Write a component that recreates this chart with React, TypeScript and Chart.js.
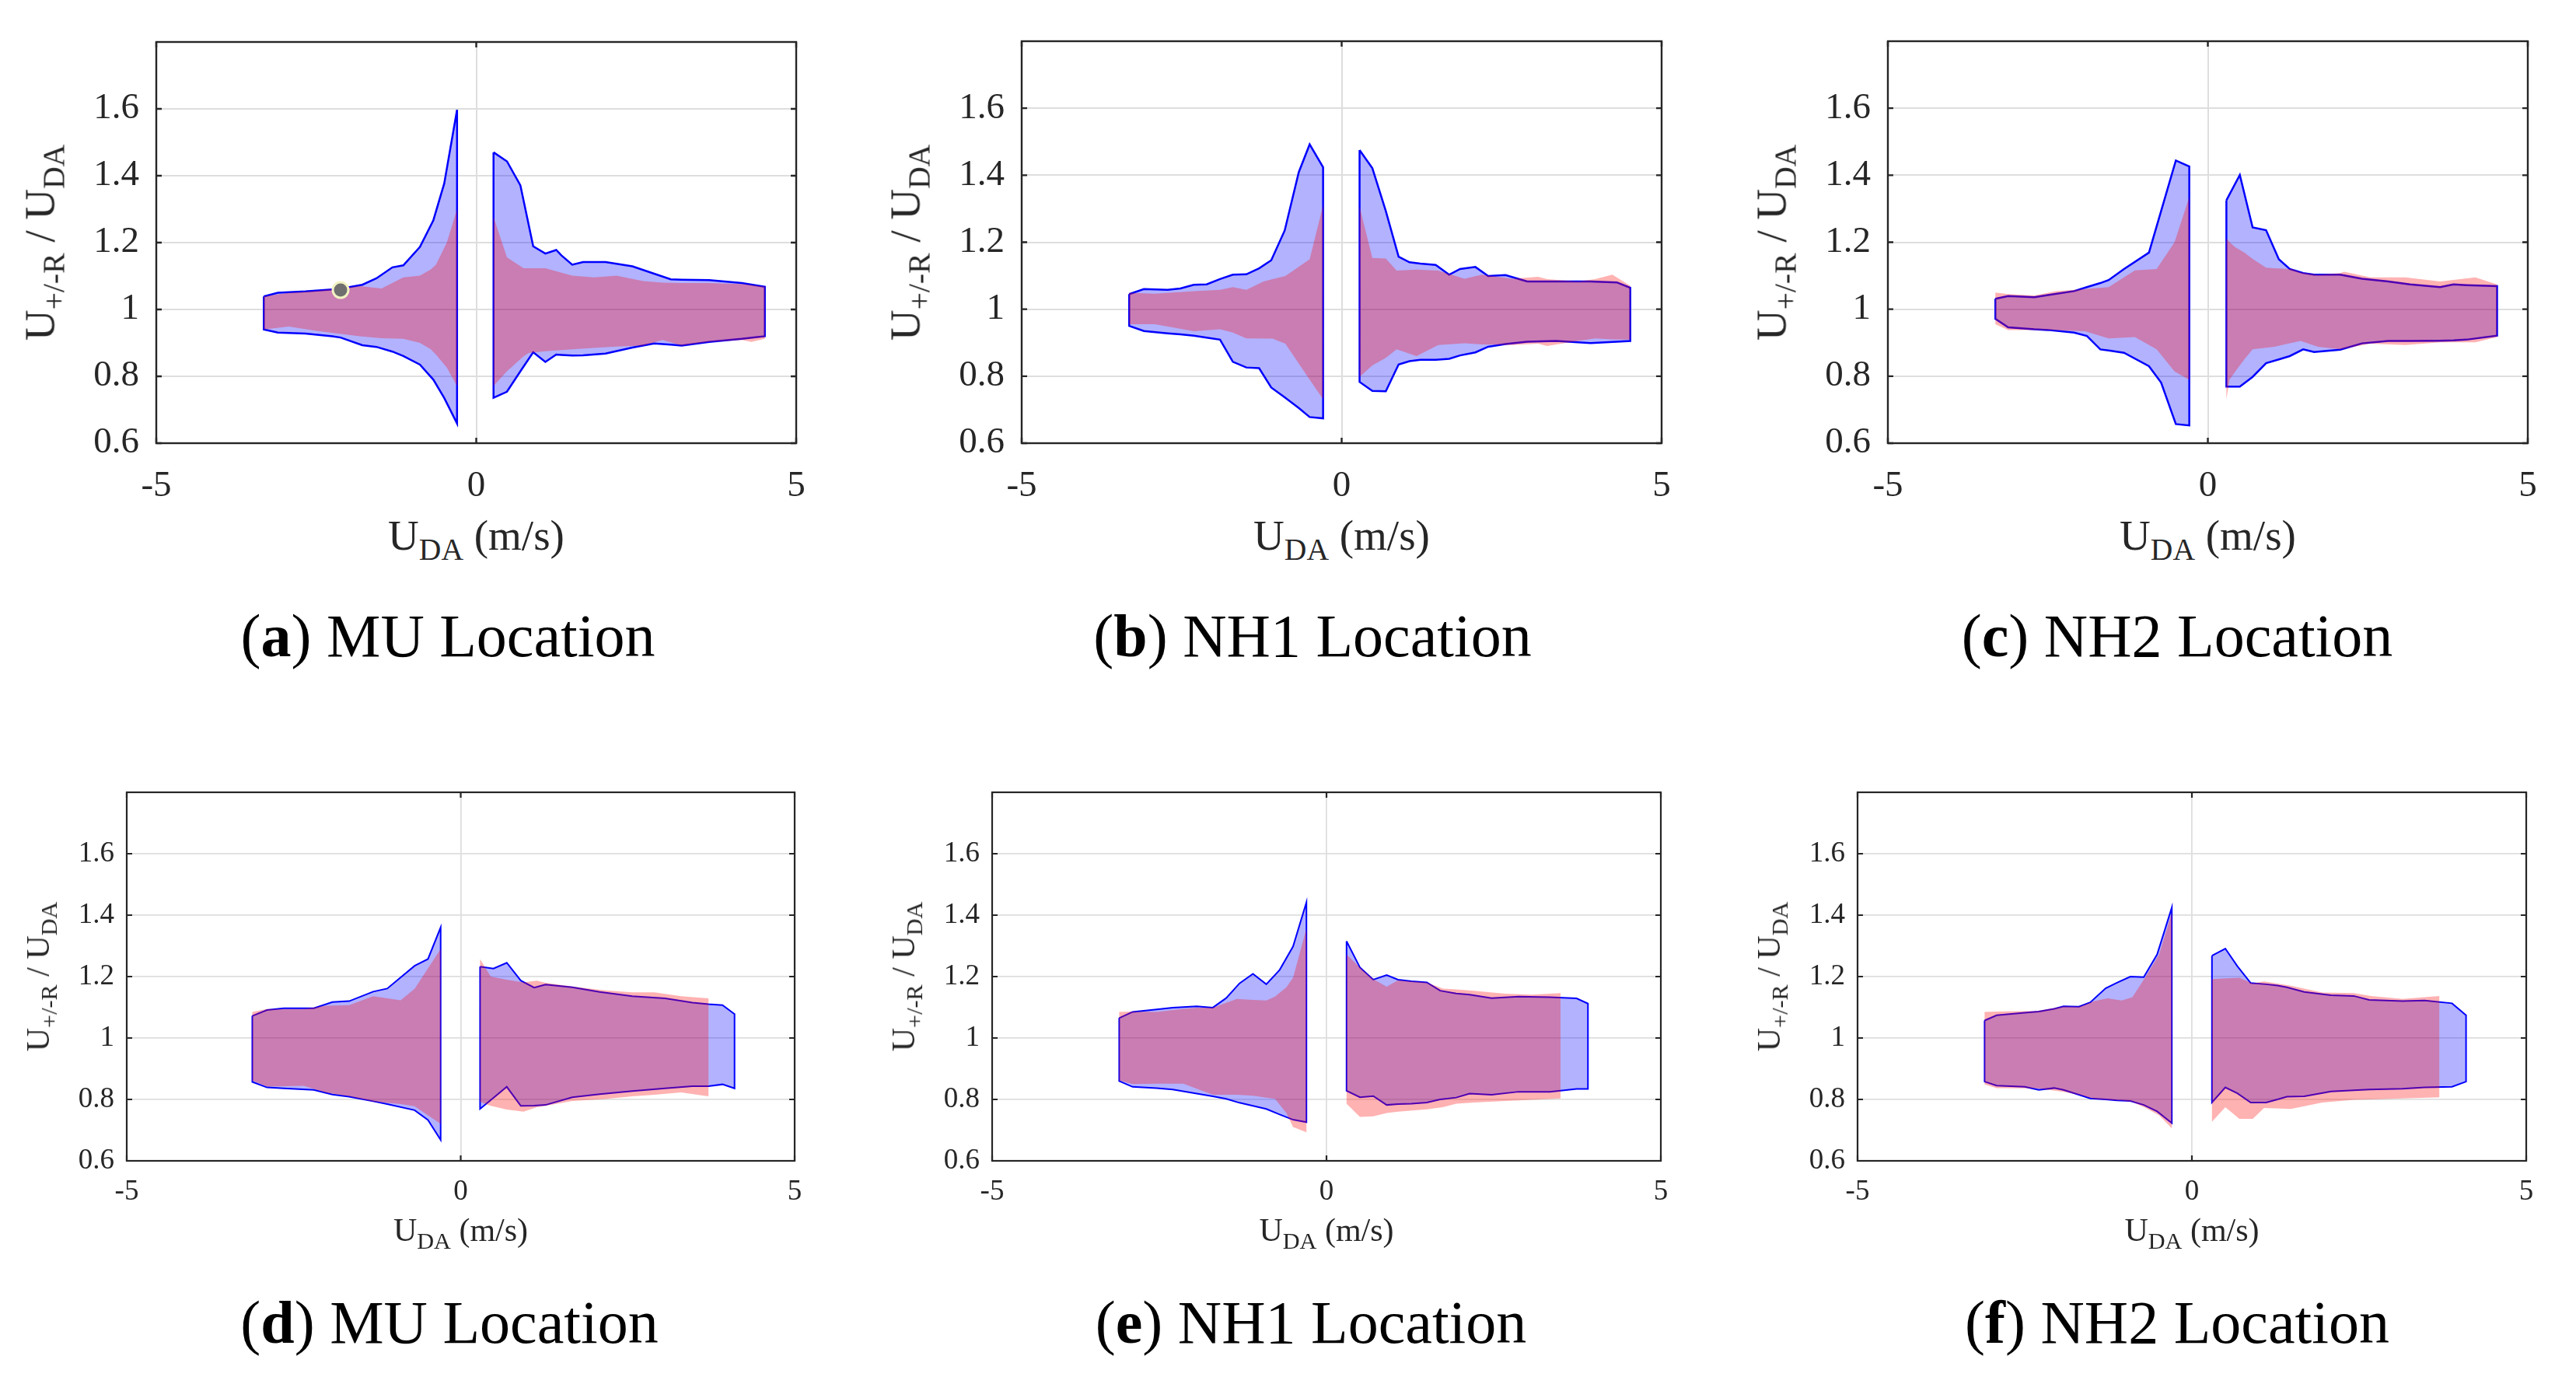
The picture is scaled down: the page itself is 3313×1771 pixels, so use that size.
import React, { useEffect, useRef } from "react";
import { Chart, registerables } from "chart.js";

Chart.register(...registerables);

// each band row: [U_DA, lower, upper]
type Band = [number, number, number][];

const X_TICKS = [-5, 0, 5];
const Y_TICKS = [0.6, 0.8, 1, 1.2, 1.4, 1.6];

// (a) MU, top row
const A_BLUE_NEG: Band = [
  [-3.32, 0.94, 1.039], [-3.1, 0.931, 1.05], [-2.67, 0.928, 1.054], [-2.25, 0.92, 1.06],
  [-2.12, 0.916, 1.062], [-1.78, 0.893, 1.074], [-1.56, 0.888, 1.093], [-1.31, 0.874, 1.126],
  [-1.14, 0.861, 1.132], [-0.88, 0.835, 1.187], [-0.67, 0.79, 1.267], [-0.5, 0.735, 1.377],
  [-0.3, 0.659, 1.597],
];
const A_RED_NEG: Band = [
  [-3.32, 0.94, 1.039], [-2.93, 0.949, 1.05], [-2.5, 0.936, 1.056], [-1.82, 0.92, 1.07],
  [-1.48, 0.914, 1.063], [-1.14, 0.912, 1.096], [-0.88, 0.9, 1.101], [-0.71, 0.881, 1.12],
  [-0.63, 0.865, 1.134], [-0.46, 0.826, 1.2], [-0.3, 0.771, 1.3],
];
const A_BLUE_POS: Band = [
  [0.27, 0.736, 1.47], [0.48, 0.754, 1.443], [0.69, 0.815, 1.371], [0.89, 0.872, 1.189],
  [1.08, 0.843, 1.167], [1.25, 0.865, 1.178], [1.33, 0.864, 1.162], [1.5, 0.862, 1.134],
  [1.67, 0.863, 1.142], [2.02, 0.868, 1.142], [2.44, 0.886, 1.129], [2.78, 0.898, 1.107],
  [3.04, 0.895, 1.09], [3.21, 0.892, 1.089], [3.64, 0.903, 1.088], [4.15, 0.912, 1.079],
  [4.51, 0.92, 1.068],
];
const A_RED_POS: Band = [
  [0.27, 0.771, 1.277], [0.48, 0.815, 1.156], [0.74, 0.86, 1.123], [0.82, 0.87, 1.123],
  [1.08, 0.875, 1.123], [1.5, 0.881, 1.101], [1.84, 0.885, 1.096], [2.19, 0.889, 1.101],
  [2.61, 0.892, 1.085], [2.91, 0.909, 1.08], [3.21, 0.892, 1.079], [3.64, 0.903, 1.079],
  [4.15, 0.909, 1.076], [4.3, 0.903, 1.074], [4.51, 0.912, 1.068],
];
const A_MARKER = [{ x: -2.12, y: 1.058 }];

// (b) NH1, top row
const B_BLUE_NEG: Band = [
  [-3.32, 0.95, 1.045], [-3.09, 0.935, 1.06], [-2.72, 0.928, 1.058], [-2.52, 0.925, 1.062],
  [-2.31, 0.921, 1.073], [-2.11, 0.915, 1.074], [-1.9, 0.909, 1.09], [-1.7, 0.843, 1.103],
  [-1.49, 0.826, 1.104], [-1.29, 0.824, 1.122], [-1.1, 0.766, 1.146], [-0.89, 0.737, 1.235],
  [-0.67, 0.705, 1.409], [-0.5, 0.678, 1.492], [-0.29, 0.674, 1.424],
];
const B_RED_NEG: Band = [
  [-3.32, 0.955, 1.049], [-2.92, 0.955, 1.046], [-2.31, 0.934, 1.054], [-1.9, 0.94, 1.058],
  [-1.7, 0.93, 1.066], [-1.49, 0.913, 1.058], [-1.22, 0.912, 1.083], [-1.08, 0.912, 1.09],
  [-0.88, 0.897, 1.099], [-0.5, 0.79, 1.149], [-0.29, 0.731, 1.31],
];
const B_BLUE_POS: Band = [
  [0.28, 0.783, 1.475], [0.48, 0.756, 1.421], [0.69, 0.755, 1.293], [0.89, 0.835, 1.157],
  [1.06, 0.845, 1.14], [1.23, 0.849, 1.136], [1.47, 0.849, 1.132], [1.68, 0.852, 1.103],
  [1.85, 0.862, 1.12], [2.09, 0.871, 1.126], [2.29, 0.888, 1.099], [2.56, 0.896, 1.102],
  [2.9, 0.903, 1.083], [3.35, 0.905, 1.083], [3.89, 0.899, 1.083], [4.3, 0.903, 1.08],
  [4.51, 0.905, 1.064],
];
const B_RED_POS: Band = [
  [0.28, 0.798, 1.306], [0.48, 0.832, 1.153], [0.69, 0.855, 1.151], [0.86, 0.88, 1.115],
  [1.17, 0.86, 1.118], [1.51, 0.893, 1.115], [1.92, 0.898, 1.091], [2.19, 0.895, 1.103],
  [2.67, 0.893, 1.091], [3.07, 0.897, 1.097], [3.21, 0.89, 1.09], [3.69, 0.905, 1.083],
  [3.96, 0.913, 1.09], [4.23, 0.91, 1.103], [4.51, 0.909, 1.07],
];

// (c) NH2, top row
const C_BLUE_NEG: Band = [
  [-3.32, 0.971, 1.031], [-3.12, 0.946, 1.039], [-2.71, 0.94, 1.036], [-2.5, 0.938, 1.042],
  [-2.09, 0.93, 1.054], [-1.89, 0.92, 1.066], [-1.68, 0.88, 1.078], [-1.55, 0.877, 1.087],
  [-1.31, 0.87, 1.12], [-0.92, 0.83, 1.169], [-0.73, 0.781, 1.293], [-0.5, 0.657, 1.444],
  [-0.29, 0.653, 1.426],
];
const C_RED_NEG: Band = [
  [-3.32, 0.955, 1.05], [-3.12, 0.938, 1.045], [-2.71, 0.938, 1.041], [-2.37, 0.937, 1.054],
  [-1.92, 0.934, 1.06], [-1.55, 0.913, 1.066], [-1.14, 0.917, 1.116], [-0.8, 0.88, 1.12],
  [-0.52, 0.814, 1.2], [-0.29, 0.789, 1.335],
];
const C_BLUE_POS: Band = [
  [0.29, 0.769, 1.325], [0.5, 0.769, 1.401], [0.7, 0.798, 1.244], [0.91, 0.839, 1.236],
  [1.11, 0.85, 1.149], [1.28, 0.86, 1.12], [1.49, 0.88, 1.108], [1.66, 0.872, 1.103],
  [2.07, 0.879, 1.103], [2.41, 0.898, 1.091], [2.82, 0.905, 1.083], [3.16, 0.905, 1.074],
  [3.63, 0.906, 1.066], [3.84, 0.907, 1.074], [4.04, 0.909, 1.072], [4.52, 0.921, 1.069],
];
const C_RED_POS: Band = [
  [0.29, 0.731, 1.211], [0.34, 0.79, 1.2], [0.43, 0.814, 1.185], [0.57, 0.85, 1.169],
  [0.7, 0.88, 1.15], [0.91, 0.885, 1.124], [1.04, 0.888, 1.122], [1.32, 0.9, 1.12],
  [1.45, 0.905, 1.11], [1.72, 0.888, 1.103], [2.07, 0.88, 1.108], [2.13, 0.882, 1.112],
  [2.54, 0.897, 1.095], [3.09, 0.893, 1.095], [3.63, 0.901, 1.083], [4.18, 0.901, 1.095],
  [4.52, 0.917, 1.074],
];

// (d) MU, bottom row
const D_BLUE_NEG: Band = [
  [-3.12, 0.857, 1.072], [-2.9, 0.839, 1.091], [-2.65, 0.836, 1.097], [-2.2, 0.831, 1.097],
  [-1.92, 0.816, 1.117], [-1.67, 0.809, 1.12], [-1.31, 0.794, 1.151], [-1.1, 0.785, 1.161],
  [-0.69, 0.765, 1.235], [-0.49, 0.733, 1.257], [-0.3, 0.668, 1.36],
];
const D_RED_NEG: Band = [
  [-3.12, 0.861, 1.085], [-2.9, 0.842, 1.094], [-2.35, 0.844, 1.094], [-2.02, 0.822, 1.105],
  [-1.67, 0.81, 1.107], [-1.31, 0.793, 1.136], [-0.9, 0.785, 1.123], [-0.69, 0.778, 1.16],
  [-0.3, 0.72, 1.29],
];
const D_BLUE_POS: Band = [
  [0.29, 0.769, 1.232], [0.49, 0.805, 1.226], [0.69, 0.841, 1.245], [0.9, 0.779, 1.187],
  [1.1, 0.78, 1.164], [1.27, 0.782, 1.174], [1.67, 0.807, 1.165], [2.08, 0.817, 1.15],
  [2.57, 0.827, 1.136], [3.06, 0.836, 1.129], [3.47, 0.843, 1.115], [3.71, 0.843, 1.11],
  [3.92, 0.849, 1.107], [4.1, 0.836, 1.078],
];
const D_RED_POS: Band = [
  [0.29, 0.792, 1.257], [0.45, 0.779, 1.2], [0.69, 0.767, 1.19], [0.94, 0.76, 1.181],
  [1.14, 0.775, 1.187], [1.27, 0.779, 1.18], [1.67, 0.795, 1.168], [2.16, 0.801, 1.155],
  [2.57, 0.81, 1.149], [2.9, 0.815, 1.149], [3.3, 0.823, 1.136], [3.71, 0.81, 1.129],
];

// (e) NH1, bottom row
const E_BLUE_NEG: Band = [
  [-3.1, 0.86, 1.065], [-2.9, 0.841, 1.085], [-2.54, 0.837, 1.093], [-2.3, 0.832, 1.099],
  [-1.94, 0.819, 1.103], [-1.7, 0.81, 1.099], [-1.5, 0.802, 1.13], [-1.3, 0.789, 1.178],
  [-1.1, 0.779, 1.209], [-0.9, 0.769, 1.175], [-0.7, 0.751, 1.222], [-0.5, 0.734, 1.298],
  [-0.3, 0.726, 1.442],
];
const E_RED_NEG: Band = [
  [-3.1, 0.862, 1.085], [-2.9, 0.85, 1.086], [-2.54, 0.851, 1.085], [-2.14, 0.851, 1.095],
  [-1.94, 0.835, 1.099], [-1.7, 0.815, 1.099], [-1.34, 0.815, 1.127], [-1.1, 0.812, 1.124],
  [-0.9, 0.806, 1.122], [-0.77, 0.802, 1.135], [-0.6, 0.756, 1.165], [-0.5, 0.71, 1.196],
  [-0.3, 0.693, 1.357],
];
const E_BLUE_POS: Band = [
  [0.3, 0.828, 1.315], [0.5, 0.807, 1.23], [0.7, 0.811, 1.19], [0.9, 0.782, 1.205],
  [1.07, 0.785, 1.19], [1.27, 0.786, 1.185], [1.5, 0.79, 1.181], [1.7, 0.8, 1.154],
  [1.94, 0.806, 1.145], [2.14, 0.819, 1.141], [2.47, 0.815, 1.13], [2.87, 0.825, 1.135],
  [3.34, 0.825, 1.133], [3.74, 0.834, 1.129], [3.91, 0.834, 1.112],
];
const E_RED_POS: Band = [
  [0.3, 0.786, 1.272], [0.5, 0.743, 1.23], [0.7, 0.745, 1.192], [0.9, 0.756, 1.167],
  [1.07, 0.76, 1.188], [1.5, 0.768, 1.181], [1.74, 0.775, 1.161], [1.94, 0.786, 1.158],
  [2.2, 0.79, 1.154], [2.67, 0.795, 1.144], [3.07, 0.799, 1.141], [3.5, 0.803, 1.146],
];

// (f) NH2, bottom row
const F_BLUE_NEG: Band = [
  [-3.1, 0.858, 1.057], [-2.92, 0.845, 1.074], [-2.5, 0.841, 1.082], [-2.29, 0.831, 1.086],
  [-2.06, 0.837, 1.095], [-1.92, 0.831, 1.103], [-1.69, 0.815, 1.102], [-1.52, 0.803, 1.116],
  [-1.29, 0.8, 1.162], [-1.12, 0.797, 1.18], [-0.92, 0.795, 1.2], [-0.72, 0.782, 1.198],
  [-0.52, 0.761, 1.272], [-0.3, 0.723, 1.425],
];
const F_RED_NEG: Band = [
  [-3.1, 0.849, 1.085], [-2.92, 0.837, 1.086], [-2.32, 0.836, 1.088], [-1.92, 0.825, 1.103],
  [-1.69, 0.815, 1.102], [-1.46, 0.801, 1.12], [-1.26, 0.798, 1.129], [-1.05, 0.796, 1.122],
  [-0.89, 0.792, 1.133], [-0.69, 0.772, 1.2], [-0.49, 0.748, 1.272], [-0.3, 0.706, 1.408],
];
const F_BLUE_POS: Band = [
  [0.3, 0.79, 1.268], [0.5, 0.839, 1.291], [0.68, 0.82, 1.234], [0.88, 0.79, 1.179],
  [1.11, 0.79, 1.175], [1.28, 0.8, 1.171], [1.42, 0.809, 1.165], [1.68, 0.81, 1.15],
  [2.08, 0.826, 1.139], [2.42, 0.83, 1.137], [2.65, 0.832, 1.124], [3.15, 0.835, 1.12],
  [3.48, 0.839, 1.122], [3.89, 0.841, 1.113], [4.1, 0.858, 1.074],
];
const F_RED_POS: Band = [
  [0.3, 0.727, 1.192], [0.5, 0.775, 1.194], [0.71, 0.737, 1.196], [0.91, 0.737, 1.178],
  [1.08, 0.772, 1.184], [1.48, 0.769, 1.17], [1.95, 0.79, 1.148], [2.42, 0.799, 1.146],
  [2.68, 0.8, 1.137], [3.15, 0.803, 1.127], [3.7, 0.807, 1.137],
];

const SERIF = '"Liberation Serif", serif';
const AXIS_TEXT = "#262626";
const GRID = "#dedede";
const BLUE_LINE = "#0000ff";
const BLUE_FILL = "rgba(0, 0, 255, 0.3)";
const RED_FILL = "rgba(255, 0, 0, 0.3)";
const PAD_T = 12;
const PAD_R = 24;
const CAP_SIZE = 78;

const ROWS = [
  { tick: 47, title: 55, yPad: 22, xPad: 27, line: 2.4, grid: 2, blueW: 2.5, yw: 140, xh: 84, yTitleOff: 150, xTitleBase: 137, capBase: 845 },
  { tick: 37, title: 42, yPad: 16, xPad: 18, line: 2.2, grid: 1.8, blueW: 2, yw: 100, xh: 70, yTitleOff: 114, xTitleBase: 103, capBase: 1728 },
];

type PanelDef = {
  letter: string;
  name: string;
  row: number;
  box: [number, number, number, number];
  capX: number;
  blueNeg: Band;
  bluePos: Band;
  redNeg: Band;
  redPos: Band;
  marker?: { x: number; y: number }[];
};

const PANELS: PanelDef[] = [
  { letter: "a", name: "MU", row: 0, box: [201, 53, 1024, 570], capX: 576, blueNeg: A_BLUE_NEG, bluePos: A_BLUE_POS, redNeg: A_RED_NEG, redPos: A_RED_POS, marker: A_MARKER },
  { letter: "b", name: "NH1", row: 0, box: [1314, 53, 2137, 570], capX: 1688, blueNeg: B_BLUE_NEG, bluePos: B_BLUE_POS, redNeg: B_RED_NEG, redPos: B_RED_POS },
  { letter: "c", name: "NH2", row: 0, box: [2428, 53, 3251, 570], capX: 2800, blueNeg: C_BLUE_NEG, bluePos: C_BLUE_POS, redNeg: C_RED_NEG, redPos: C_RED_POS },
  { letter: "d", name: "MU", row: 1, box: [163, 1019, 1022, 1493], capX: 578, blueNeg: D_BLUE_NEG, bluePos: D_BLUE_POS, redNeg: D_RED_NEG, redPos: D_RED_POS },
  { letter: "e", name: "NH1", row: 1, box: [1276, 1019, 2136, 1493], capX: 1686, blueNeg: E_BLUE_NEG, bluePos: E_BLUE_POS, redNeg: E_RED_NEG, redPos: E_RED_POS },
  { letter: "f", name: "NH2", row: 1, box: [2389, 1019, 3249, 1493], capX: 2800, blueNeg: F_BLUE_NEG, bluePos: F_BLUE_POS, redNeg: F_RED_NEG, redPos: F_RED_POS },
];

// closed outline: upper edge left->right, lower edge right->left
const toPolygon = (band: Band) => {
  const upper = band.map(([x, , hi]) => ({ x, y: hi }));
  const lower = band.slice().reverse().map(([x, lo]) => ({ x, y: lo }));
  return [...upper, ...lower, upper[0]];
};

// matlab style box with inward ticks
const boxPlugin = {
  id: "matlabBox",
  afterDatasetsDraw(chart: any, _args: any, opts: any) {
    const { ctx, chartArea: a, scales } = chart;
    ctx.save();
    ctx.strokeStyle = AXIS_TEXT;
    ctx.lineWidth = opts.width;
    ctx.strokeRect(a.left, a.top, a.right - a.left, a.bottom - a.top);
    const len = opts.tick;
    ctx.beginPath();
    Y_TICKS.forEach((v) => {
      const y = scales.y.getPixelForValue(v);
      ctx.moveTo(a.left, y);
      ctx.lineTo(a.left + len, y);
      ctx.moveTo(a.right, y);
      ctx.lineTo(a.right - len, y);
    });
    X_TICKS.forEach((v) => {
      const x = scales.x.getPixelForValue(v);
      ctx.moveTo(x, a.bottom);
      ctx.lineTo(x, a.bottom - len);
      ctx.moveTo(x, a.top);
      ctx.lineTo(x, a.top + len);
    });
    ctx.stroke();
    ctx.restore();
  },
};

const Sub = ({ children }: { children: React.ReactNode }) => (
  <span style={{ fontSize: "0.72em", position: "relative", top: "0.34em" }}>{children}</span>
);

function BandChart({ p }: { p: PanelDef }) {
  const ref = useRef<HTMLCanvasElement>(null);
  const s = ROWS[p.row];
  const [L, T, R, B] = p.box;
  const w = s.yw + (R - L) + PAD_R;
  const h = PAD_T + (B - T) + s.xh;

  useEffect(() => {
    if (!ref.current) return;
    const blue = (band: Band) => ({
      data: toPolygon(band),
      borderColor: BLUE_LINE,
      borderWidth: s.blueW,
      backgroundColor: BLUE_FILL,
      fill: "shape",
      pointRadius: 0,
      pointHoverRadius: 0,
      tension: 0,
      order: 3,
    });
    const red = (band: Band) => ({
      data: toPolygon(band),
      borderColor: "rgba(0,0,0,0)",
      borderWidth: 0,
      backgroundColor: RED_FILL,
      fill: "shape",
      pointRadius: 0,
      pointHoverRadius: 0,
      tension: 0,
      order: 2,
    });
    const datasets: any[] = [blue(p.blueNeg), blue(p.bluePos), red(p.redNeg), red(p.redPos)];
    if (p.marker) {
      datasets.push({
        data: p.marker,
        showLine: false,
        pointRadius: 10,
        pointBackgroundColor: "#6f6f6f",
        pointBorderColor: "#f2f2c2",
        pointBorderWidth: 3,
        order: 1,
      });
    }
    const tickFont = { family: SERIF, size: s.tick };
    const chart = new Chart(ref.current, {
      type: "line",
      data: { datasets },
      options: {
        animation: false,
        responsive: false,
        events: [],
        layout: { padding: { top: PAD_T, right: PAD_R, left: 0, bottom: 0 } },
        plugins: {
          legend: { display: false },
          tooltip: { enabled: false },
          matlabBox: { width: s.line, tick: 7 },
        } as any,
        scales: {
          x: {
            type: "linear",
            min: -5,
            max: 5,
            afterBuildTicks: (sc: any) => {
              sc.ticks = X_TICKS.map((v) => ({ value: v }));
            },
            afterFit: (sc: any) => {
              sc.height = s.xh;
              sc.paddingLeft = 0;
              sc.paddingRight = 0;
            },
            grid: { color: GRID, lineWidth: s.grid, drawTicks: false },
            border: { display: false },
            ticks: {
              font: tickFont,
              color: AXIS_TEXT,
              padding: s.xPad,
              maxRotation: 0,
              autoSkip: false,
              callback: (v: any) => String(v),
            },
          },
          y: {
            type: "linear",
            min: 0.6,
            max: 1.8,
            afterBuildTicks: (sc: any) => {
              sc.ticks = Y_TICKS.map((v) => ({ value: v }));
            },
            afterFit: (sc: any) => {
              sc.width = s.yw;
              sc.paddingTop = 0;
              sc.paddingBottom = 0;
            },
            grid: { color: GRID, lineWidth: s.grid, drawTicks: false },
            border: { display: false },
            ticks: {
              font: tickFont,
              color: AXIS_TEXT,
              padding: s.yPad,
              autoSkip: false,
              callback: (v: any) => String(Math.round(Number(v) * 10) / 10),
            },
          },
        },
      },
      plugins: [boxPlugin],
    } as any);
    return () => chart.destroy();
  }, []);

  return (
    <canvas
      ref={ref}
      width={w}
      height={h}
      style={{ position: "absolute", left: L - s.yw, top: T - PAD_T, width: w, height: h }}
    />
  );
}

function Panel({ p }: { p: PanelDef }) {
  const s = ROWS[p.row];
  const [L, T, R, B] = p.box;
  const cx = (L + R) / 2;
  const cy = (T + B) / 2;
  return (
    <>
      <BandChart p={p} />
      <div
        style={{
          position: "absolute",
          left: L - s.yTitleOff,
          top: cy,
          transform: "translate(-50%, -50%) rotate(-90deg)",
          fontFamily: SERIF,
          fontSize: s.title,
          lineHeight: 1,
          color: AXIS_TEXT,
          whiteSpace: "nowrap",
        }}
      >
        U<Sub>+/-R</Sub> / U<Sub>DA</Sub>
      </div>
      <div
        style={{
          position: "absolute",
          left: cx,
          top: B + s.xTitleBase - 0.84 * s.title,
          transform: "translateX(-50%)",
          fontFamily: SERIF,
          fontSize: s.title,
          lineHeight: 1,
          color: AXIS_TEXT,
          whiteSpace: "nowrap",
        }}
      >
        U<Sub>DA</Sub> (m/s)
      </div>
      <div
        style={{
          position: "absolute",
          left: p.capX,
          top: s.capBase - 0.84 * CAP_SIZE,
          transform: "translateX(-50%)",
          fontFamily: SERIF,
          fontSize: CAP_SIZE,
          lineHeight: 1,
          color: "#000",
          whiteSpace: "nowrap",
        }}
      >
        (<b>{p.letter}</b>) {p.name} Location
      </div>
    </>
  );
}

export default function App() {
  return (
    <div
      style={{
        position: "absolute",
        left: 0,
        top: 0,
        width: 3313,
        height: 1771,
        background: "#fff",
        overflow: "hidden",
      }}
    >
      {PANELS.map((p) => (
        <Panel key={p.letter} p={p} />
      ))}
    </div>
  );
}
